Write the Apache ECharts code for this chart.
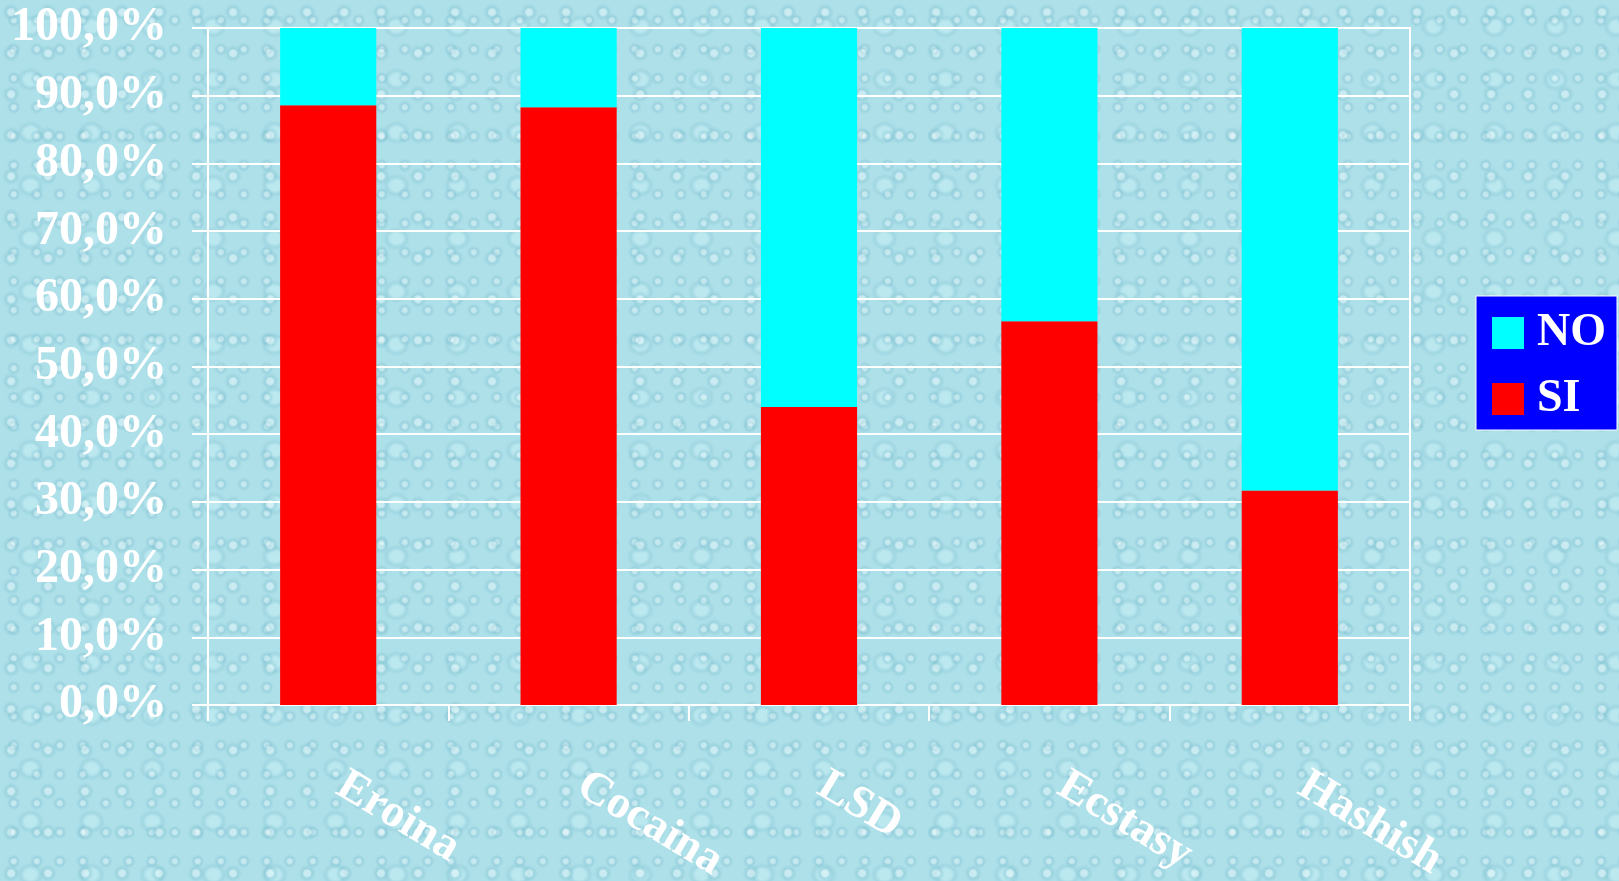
<!DOCTYPE html>
<html>
<head>
<meta charset="utf-8">
<script src="https://cdn.jsdelivr.net/npm/echarts@6/dist/echarts.min.js"></script>
<style>
html,body{margin:0;padding:0;width:1619px;height:881px;overflow:hidden;}
body{
  background-color:#aee0e9;
  background-image:
    radial-gradient(circle at 30% 30%, rgba(255,255,255,0.35) 0 3px, rgba(120,190,205,0.35) 5px, transparent 9px),
    radial-gradient(circle at 60% 70%, rgba(255,255,255,0.30) 0 2px, rgba(110,180,200,0.30) 4px, transparent 7px),
    radial-gradient(ellipse at 50% 50%, rgba(200,240,246,0.5) 0 6px, rgba(130,195,210,0.3) 10px, transparent 14px);
  background-size:37px 41px, 23px 29px, 61px 53px;
}
#chart{width:1619px;height:881px;}
</style>
</head>
<body>
<div id="chart"></div>
<script>
const categories = ['Eroina', 'Cocaina', 'LSD', 'Ecstasy', 'Hashish'];
const siValues = [88.6, 88.3, 44.0, 56.7, 31.7];
const noValues = [11.4, 11.7, 56.0, 43.3, 68.3];
const seriesNames = ['NO', 'SI'];

const font = "'Liberation Serif', 'Times New Roman', serif";
const chart = echarts.init(document.getElementById('chart'), null, {renderer: 'canvas'});
chart.setOption({
  backgroundColor: 'transparent',
  animation: false,
  grid: {left: 208, top: 28, right: 209, bottom: 176, containLabel: false, outerBoundsMode: 'none',
         show: true, borderColor: '#ffffff', borderWidth: 2},
  legend: {
    data: seriesNames,
    orient: 'vertical',
    right: 2,
    top: 296,
    backgroundColor: '#0000ff',
    borderColor: '#ffffff',
    borderWidth: 1,
    borderRadius: 0,
    padding: [14, 11, 8, 16],
    itemWidth: 32,
    itemHeight: 32,
    itemGap: 20,
    icon: 'rect',
    textStyle: {color: '#ffffff', fontFamily: font, fontWeight: 'bold', fontSize: 46, lineHeight: 46, padding: [0, 0, 0, 8]}
  },
  xAxis: {
    type: 'category',
    data: categories,
    boundaryGap: true,
    axisLine: {lineStyle: {color: '#ffffff', width: 2}},
    axisTick: {show: true, length: 16, lineStyle: {color: '#ffffff', width: 2}},
    axisLabel: {color: '#ffffff', fontFamily: font, fontWeight: 'bold', fontSize: 46, rotate: -31,
                margin: 70, padding: [0, 0, 0, 14], interval: 0}
  },
  yAxis: {
    type: 'value',
    min: 0, max: 100, interval: 10,
    axisLine: {show: true, lineStyle: {color: '#ffffff', width: 2}},
    axisTick: {show: true, length: 16, lineStyle: {color: '#ffffff', width: 2}},
    splitLine: {show: true, lineStyle: {color: '#ffffff', width: 2}},
    axisLabel: {
      color: '#ffffff', fontFamily: font, fontWeight: 'bold', fontSize: 48, margin: 41,
      formatter: v => v.toFixed(1).replace('.', ',') + '%'
    }
  },
  series: [
    {name: 'SI', type: 'bar', stack: 'tot', data: siValues, barWidth: '40%', itemStyle: {color: '#ff0000'}},
    {name: 'NO', type: 'bar', stack: 'tot', data: noValues, barWidth: '40%', itemStyle: {color: '#00ffff'}}
  ]
});
</script>
</body>
</html>
